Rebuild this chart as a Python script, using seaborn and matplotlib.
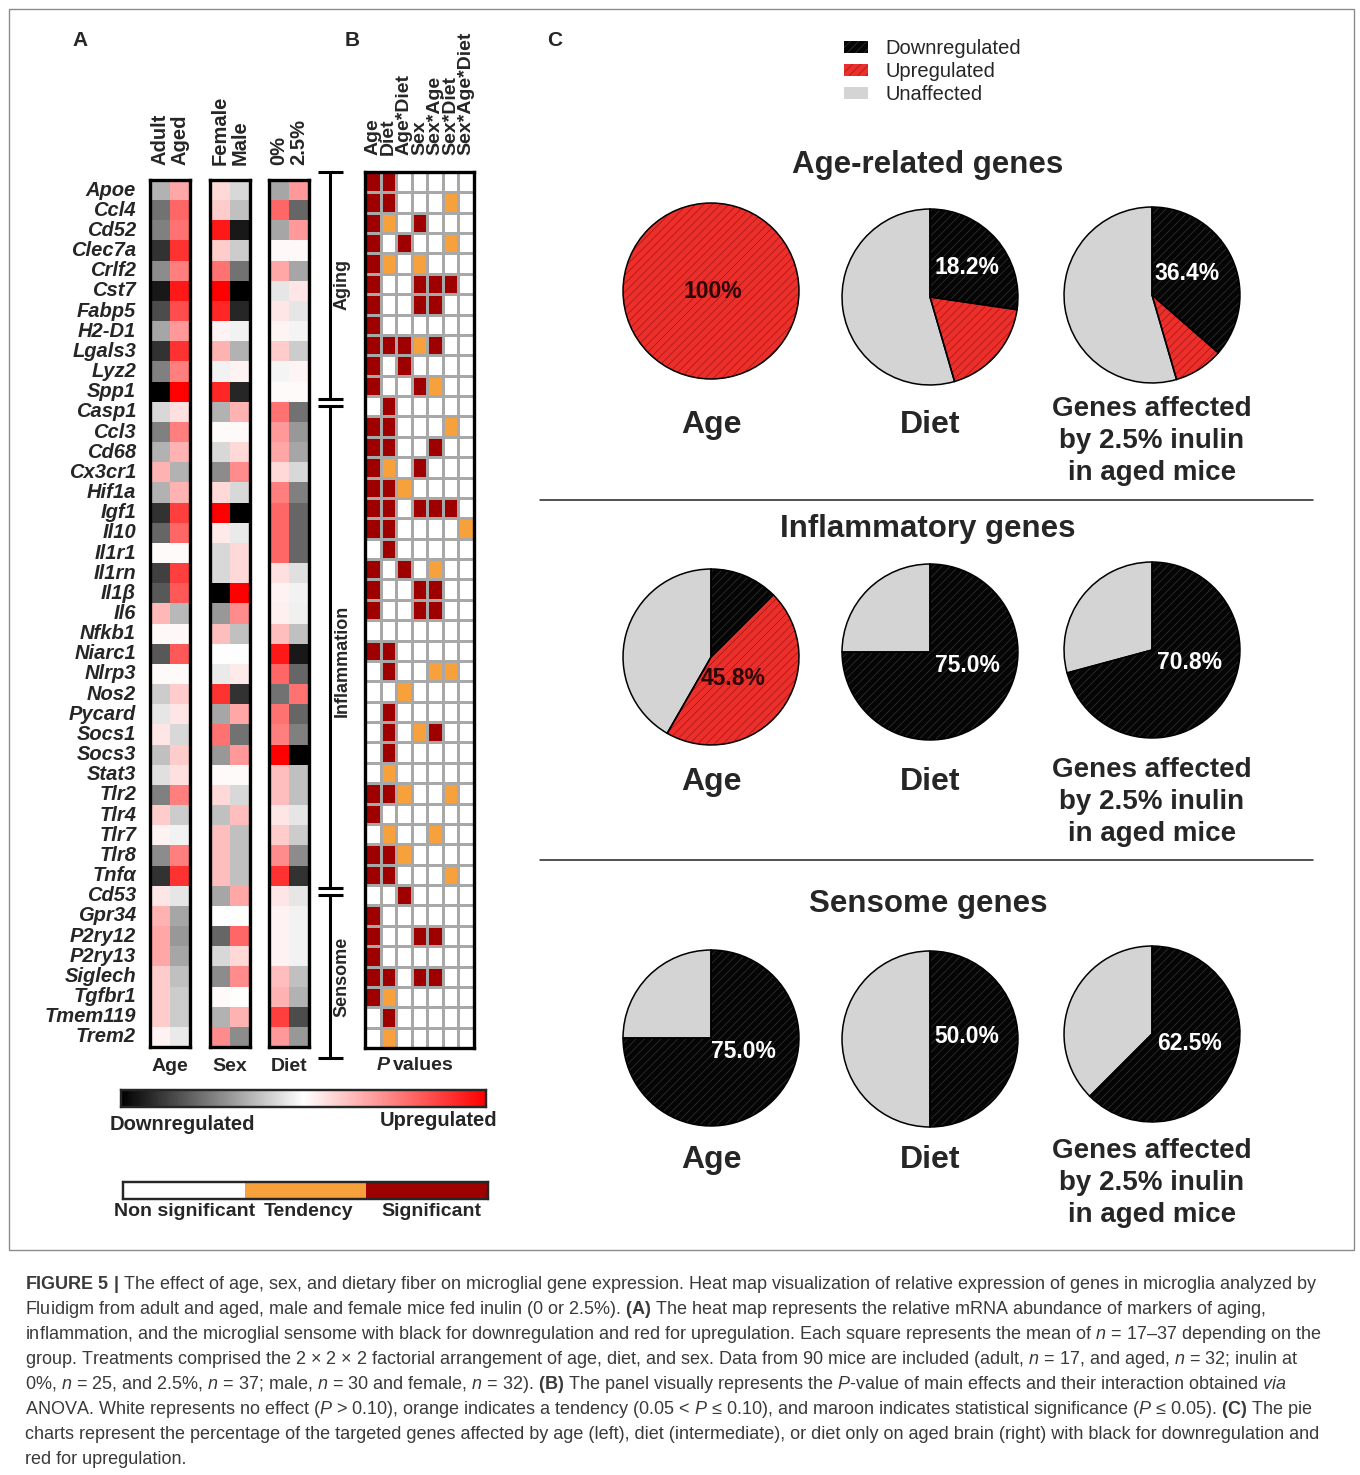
import numpy as np
import pandas as pd
import seaborn as sns
import matplotlib
matplotlib.use("Agg")
import matplotlib.pyplot as plt
from matplotlib.colors import LinearSegmentedColormap, ListedColormap
from matplotlib import font_manager
from matplotlib.patches import Rectangle, Patch, Circle
from matplotlib.lines import Line2D

# ---------------------------------------------------------------- data
genes = ["Apoe", "Ccl4", "Cd52", "Clec7a", "Crlf2", "Cst7", "Fabp5", "H2-D1", "Lgals3", "Lyz2", "Spp1",
         "Casp1", "Ccl3", "Cd68", "Cx3cr1", "Hif1a", "Igf1", "Il10", "Il1r1", "Il1rn", "Il1β", "Il6",
         "Nfkb1", "Niarc1", "Nlrp3", "Nos2", "Pycard", "Socs1", "Socs3", "Stat3", "Tlr2", "Tlr4", "Tlr7",
         "Tlr8", "Tnfα",
         "Cd53", "Gpr34", "P2ry12", "P2ry13", "Siglech", "Tgfbr1", "Tmem119", "Trem2"]
gene_groups = ["Aging", "Inflammation", "Sensome"]
group_sizes = [11, 24, 8]

# relative expression (-1 = downregulated, +1 = upregulated)
adult = [-0.3, -0.55, -0.5, -0.8, -0.45, -0.9, -0.7, -0.35, -0.8, -0.5, -1.0,
         -0.15, -0.5, -0.3, 0.3, -0.3, -0.8, -0.6, 0.02, -0.75, -0.65, 0.28, 0.03, -0.65, 0.02, -0.2,
         -0.1, 0.1, -0.25, -0.12, -0.5, 0.2, 0.05, -0.45, -0.8,
         0.1, 0.3, 0.35, 0.35, 0.2, 0.2, 0.2, 0.05]
aged = [0.35, 0.6, 0.55, 0.8, 0.5, 0.9, 0.7, 0.4, 0.8, 0.5, 1.0,
        0.12, 0.5, 0.3, -0.3, 0.3, 0.75, 0.6, 0.02, 0.75, 0.65, -0.28, 0.03, 0.65, 0.02, 0.2,
        0.1, -0.15, 0.2, 0.12, 0.5, -0.2, -0.05, 0.5, 0.8,
        -0.1, -0.35, -0.4, -0.35, -0.25, -0.2, -0.2, -0.08]
female = [0.15, 0.2, 0.9, 0.2, 0.55, 1.0, 0.85, 0.05, 0.3, -0.05, 0.85,
          -0.3, 0.02, -0.15, -0.45, 0.15, 1.0, 0.08, -0.15, -0.15, -1.0, -0.4, 0.25, 0.0, -0.08, 0.8,
          -0.35, 0.55, -0.4, 0.02, 0.15, -0.25, 0.25, 0.25, 0.25,
          -0.35, 0.0, -0.6, -0.15, -0.45, 0.02, -0.3, 0.45]
male = [-0.15, -0.25, -0.9, -0.2, -0.55, -1.0, -0.85, -0.05, -0.3, 0.05, -0.85,
        0.3, 0.02, 0.15, 0.45, -0.15, -1.0, -0.08, 0.15, 0.15, 1.0, 0.45, -0.25, 0.0, 0.08, -0.8,
        0.35, -0.55, 0.4, 0.02, -0.15, 0.25, -0.25, -0.25, -0.25,
        0.35, 0.0, 0.6, 0.15, 0.45, 0.0, 0.3, -0.45]
diet_0 = [-0.35, 0.6, -0.35, 0.03, 0.35, -0.1, 0.1, 0.04, 0.2, -0.04, 0.02,
          0.55, 0.4, 0.35, 0.15, 0.5, 0.6, 0.6, 0.6, 0.12, 0.05, 0.06, 0.25, 0.9, 0.6, -0.55,
          0.55, 0.5, 1.0, 0.25, 0.25, 0.1, 0.2, 0.45, 0.8,
          0.1, 0.05, 0.05, 0.05, 0.25, 0.3, 0.75, 0.4]
diet_25 = [0.4, -0.6, 0.4, 0.03, -0.35, 0.1, -0.1, -0.04, -0.2, 0.04, 0.02,
           -0.55, -0.4, -0.35, -0.15, -0.5, -0.6, -0.6, -0.6, -0.12, -0.05, -0.06, -0.25, -0.9, -0.6, 0.55,
           -0.6, -0.5, -1.0, -0.25, -0.25, -0.1, -0.2, -0.45, -0.8,
           -0.1, -0.05, -0.05, -0.05, -0.25, -0.3, -0.7, -0.4]

# ANOVA outcome per gene: 0 = not significant, 1 = tendency, 2 = significant
effects = ["Age", "Diet", "Age*Diet", "Sex", "Sex*Age", "Sex*Diet", "Sex*Age*Diet"]
pvals = [
    [2, 2, 0, 0, 0, 0, 0], [2, 2, 0, 0, 0, 1, 0], [2, 1, 0, 2, 0, 0, 0], [2, 0, 2, 0, 0, 1, 0],
    [2, 1, 0, 1, 0, 0, 0], [2, 0, 0, 2, 2, 2, 0], [2, 0, 0, 2, 2, 0, 0], [2, 0, 0, 0, 0, 0, 0],
    [2, 2, 2, 1, 2, 0, 0], [2, 0, 2, 0, 0, 0, 0], [2, 0, 0, 2, 1, 0, 0],
    [0, 2, 0, 0, 0, 0, 0], [2, 2, 0, 0, 0, 1, 0], [2, 2, 0, 0, 2, 0, 0], [2, 1, 0, 2, 0, 0, 0],
    [2, 2, 1, 0, 0, 0, 0], [2, 2, 0, 2, 2, 2, 0], [2, 2, 0, 0, 0, 0, 1], [0, 2, 0, 0, 0, 0, 0],
    [2, 0, 2, 0, 1, 0, 0], [2, 0, 0, 2, 2, 0, 0], [2, 0, 0, 2, 2, 0, 0], [0, 0, 0, 0, 0, 0, 0],
    [2, 2, 0, 0, 0, 0, 0], [0, 2, 0, 0, 1, 1, 0], [0, 0, 1, 0, 0, 0, 0], [0, 2, 0, 0, 0, 0, 0],
    [0, 2, 0, 1, 2, 0, 0], [0, 2, 0, 0, 0, 0, 0], [0, 1, 0, 0, 0, 0, 0], [2, 2, 1, 0, 0, 1, 0],
    [2, 0, 0, 0, 0, 0, 0], [0, 1, 0, 0, 1, 0, 0], [2, 2, 1, 0, 0, 0, 0], [2, 2, 0, 0, 0, 1, 0],
    [0, 0, 2, 0, 0, 0, 0], [2, 0, 0, 0, 0, 0, 0], [2, 0, 0, 2, 2, 0, 0], [2, 0, 0, 0, 0, 0, 0],
    [2, 2, 0, 2, 2, 0, 0], [2, 1, 0, 0, 0, 0, 0], [0, 2, 0, 0, 0, 0, 0], [0, 1, 0, 0, 0, 0, 0],
]
p_levels = ["Non significant", "Tendency", "Significant"]

# percentage of genes per gene set: downregulated / upregulated / unaffected
pie_sets = ["Age-related genes", "Inflammatory genes", "Sensome genes"]
pie_factors = ["Age", "Diet", "Genes affected\nby 2.5% inulin\nin aged mice"]
pct_down = [[0.0, 27.3, 36.4], [12.5, 75.0, 70.8], [75.0, 50.0, 62.5]]
pct_up = [[100.0, 18.2, 9.1], [45.8, 0.0, 0.0], [0.0, 0.0, 0.0]]
pct_unaffected = [[0.0, 54.5, 54.5], [41.7, 25.0, 29.2], [25.0, 50.0, 37.5]]
pct_labelled = [["up", "up", "down"], ["up", "down", "down"], ["down", "down", "down"]]
pie_legend = ["Downregulated", "Upregulated", "Unaffected"]

# ---------------------------------------------------------------- style
W, H = 1360, 1475
sns.set_theme(style="white")
installed = {f.name for f in font_manager.fontManager.ttflist}
SANS = "Liberation Sans"
NARROW = "Liberation Sans Narrow" if "Liberation Sans Narrow" in installed else SANS
plt.rcParams["font.family"] = [SANS, "DejaVu Sans"]
plt.rcParams["mathtext.fontset"] = "custom"
plt.rcParams["mathtext.rm"] = NARROW
plt.rcParams["mathtext.it"] = NARROW + ":italic"
plt.rcParams["mathtext.bf"] = NARROW + ":bold"
plt.rcParams["hatch.linewidth"] = 0.45

expr_cmap = LinearSegmentedColormap.from_list("down_up", ["#000000", "#ffffff", "#ff0000"])
p_cmap = ListedColormap(["#ffffff", "#f7a13c", "#9e0000"])
PIE_BLACK, PIE_RED, PIE_GREY = "#050505", "#ec2f2b", "#d4d4d4"
HATCH_BLACK, HATCH_RED = "#3a3a3a", "#9a1212"

fig = plt.figure(figsize=(W / 100, H / 100), dpi=100)
fig.patch.set_facecolor("white")


def px_axes(left, top, width, height):
    return fig.add_axes([left / W, 1 - (top + height) / H, width / W, height / H])


def ptext(x, y, s, **kw):
    return fig.text(x / W, 1 - y / H, s, **kw)


def frame(ax, lw=2.4):
    for sp in ax.spines.values():
        sp.set_visible(True)
        sp.set_color("black")
        sp.set_linewidth(lw)


# ---------------------------------------------------------------- panel A
cbar_ax = px_axes(121, 1090, 365, 17)
blocks = [("Age", ["Adult", "Aged"], adult, aged, 150),
          ("Sex", ["Female", "Male"], female, male, 210),
          ("Diet", ["0%", "2.5%"], diet_0, diet_25, 269)]
for i, (name, cols, a, b, x0) in enumerate(blocks):
    ax = px_axes(x0, 180, 40, 867)
    df = pd.DataFrame({cols[0]: a, cols[1]: b}, index=genes)
    sns.heatmap(df, ax=ax, cmap=expr_cmap, vmin=-1, vmax=1,
                cbar=(i == 0), cbar_ax=cbar_ax if i == 0 else None,
                cbar_kws=dict(orientation="horizontal", ticks=[-0.6, -0.2, 0.2, 0.6]) if i == 0 else {},
                xticklabels=True, yticklabels=(i == 0))
    ax.xaxis.tick_top()
    ax.set_xticklabels(cols, rotation=90, fontsize=14.5, fontweight="bold", va="bottom")
    ax.tick_params(axis="x", length=0, pad=11)
    ax.tick_params(axis="y", length=0, pad=10)
    if i == 0:
        ax.set_yticklabels(genes, rotation=0, fontsize=14.5, fontweight="bold", fontstyle="italic")
    ax.set_ylabel("")
    ax.set_xlabel(name, fontsize=14, fontweight="bold", labelpad=8)
    frame(ax)

cbar_ax.tick_params(axis="x", which="both", direction="in", length=3, width=1.2,
                    top=True, bottom=True, labelbottom=False, labeltop=False, colors="black")
for sp in cbar_ax.spines.values():
    sp.set_visible(True)
    sp.set_linewidth(1.6)
ptext(110, 1124, "Downregulated", fontsize=14.5, fontweight="bold", ha="left", va="center")
ptext(497, 1121, "Upregulated", fontsize=14.5, fontweight="bold", ha="right", va="center")

# group brackets
brk = px_axes(310, 150, 45, 930)
brk.set_xlim(310, 355)
brk.set_ylim(1080, 150)
brk.axis("off")
row_px = 876 / len(genes)
bounds = np.concatenate([[0], np.cumsum(group_sizes)])
line_kw = dict(color="black", lw=2.2, solid_capstyle="butt")
top_y, bot_y = 172, 172 + bounds[-1] * row_px + 10
breaks = [172 + b * row_px + 6 for b in bounds[1:-1]]
seg_ends = [top_y] + [v for b in breaks for v in (b - 3.5, b + 3.5)] + [bot_y]
for k in range(0, len(seg_ends), 2):
    brk.plot([330, 330], [seg_ends[k], seg_ends[k + 1]], **line_kw)
for y in [top_y, bot_y] + [b - 3.5 for b in breaks] + [b + 3.5 for b in breaks]:
    brk.plot([318, 343], [y, y], **line_kw)
label_rows = [5.5, 24.0, 39.5]
for g, r in zip(gene_groups, label_rows):
    brk.text(342, 172 + r * row_px, g, rotation=90, ha="center", va="center",
             fontsize=13, fontweight="bold")

# ---------------------------------------------------------------- panel B
pcax = px_axes(123, 1182, 365, 17)
pax = px_axes(365, 172, 109, 876)
pdf = pd.DataFrame(np.array(pvals), index=genes, columns=effects)
sns.heatmap(pdf, ax=pax, cmap=p_cmap, vmin=-0.5, vmax=2.5, linewidths=0.8, linecolor="#a8a8a8",
            cbar=True, cbar_ax=pcax, cbar_kws=dict(orientation="horizontal", ticks=[]),
            xticklabels=True, yticklabels=False)
pax.xaxis.tick_top()
pax.set_xticklabels(effects, rotation=90, fontsize=14, fontweight="bold", va="bottom")
pax.tick_params(axis="x", length=0, pad=12)
pax.set_ylabel("")
pax.set_xlabel("")
frame(pax)
ptext(390, 1066, "P", fontsize=14, fontweight="bold", fontstyle="italic", ha="right", va="center")
ptext(393, 1066, "values", fontsize=14, fontweight="bold", ha="left", va="center")
for sp in pcax.spines.values():
    sp.set_visible(True)
    sp.set_linewidth(1.6)
for lab, x in zip(p_levels, [185, 309, 431]):
    ptext(x, 1212, lab, fontsize=14, fontweight="bold", ha="center", va="center")

# panel letters
for letter, x in zip("ABC", [80, 352, 555]):
    ptext(x, 40, letter, fontsize=15, fontweight="bold", ha="center", va="center")

# ---------------------------------------------------------------- panel C
HATCH = "////"
pie_cx = [711, 930, 1152]
pie_cy = [[291, 297, 295], [657, 652, 650], [1038, 1039, 1034]]
label_xy = [[(0.02, 0.0), (0.42, 0.33), (0.40, 0.25)],
            [(0.25, -0.24), (0.43, -0.15), (0.43, -0.14)],
            [(0.37, -0.15), (0.42, 0.03), (0.43, -0.11)]]
label_col = [["#2a0606", "white", "white"], ["#2a0606", "white", "white"], ["white", "white", "white"]]
title_y = [165, 529, 904]
factor_y = [(425, 441), (782, 802), (1160, 1183)]

for gi, gset in enumerate(pie_sets):
    ptext(928, title_y[gi], gset, fontsize=22.5, fontweight="bold", family=NARROW,
          ha="center", va="center")
    for ci in range(3):
        vals = [pct_down[gi][ci], pct_up[gi][ci], pct_unaffected[gi][ci]]
        cx, cy = pie_cx[ci], pie_cy[gi][ci]
        ax = px_axes(cx - 90, cy - 90, 180, 180)
        wedges, _ = ax.pie(vals, colors=[PIE_BLACK, PIE_RED, PIE_GREY], startangle=90,
                           counterclock=False, wedgeprops=dict(linewidth=0))
        wedges[0].set_hatch(HATCH)
        wedges[0].set_edgecolor(HATCH_BLACK)
        wedges[1].set_hatch(HATCH)
        wedges[1].set_edgecolor(HATCH_RED)
        nonzero = [v for v in vals if v > 0]
        if len(nonzero) > 1:
            ax.pie(nonzero, startangle=90, counterclock=False,
                   wedgeprops=dict(fill=False, edgecolor="black", linewidth=1.1))
        else:
            ax.add_patch(Circle((0, 0), 1, fill=False, edgecolor="black", lw=1.1))
        ax.set_xlim(-1.023, 1.023)
        ax.set_ylim(-1.023, 1.023)
        ax.set_aspect("equal")
        ax.axis("off")
        which = pct_labelled[gi][ci]
        v = pct_down[gi][ci] if which == "down" else pct_up[gi][ci]
        txt = f"{v:.0f}%" if v == 100 else f"{v:.1f}%"
        lx, ly = label_xy[gi][ci]
        ax.text(lx, ly, txt, ha="center", va="center", color=label_col[gi][ci],
                fontsize=16.5, fontweight="bold", family=NARROW)
        if ci == 2:
            ptext(cx, factor_y[gi][1], pie_factors[ci], fontsize=20, fontweight="bold",
                  family=NARROW, ha="center", va="center", linespacing=1.32)
        else:
            ptext(cx, factor_y[gi][0], pie_factors[ci], fontsize=23, fontweight="bold",
                  family=NARROW, ha="center", va="center")

handles = [Patch(facecolor=PIE_BLACK, edgecolor=HATCH_BLACK, hatch=HATCH, linewidth=0),
           Patch(facecolor=PIE_RED, edgecolor=HATCH_RED, hatch=HATCH, linewidth=0),
           Patch(facecolor=PIE_GREY, edgecolor=PIE_GREY, linewidth=0)]
fig.legend(handles, pie_legend, loc="upper left", bbox_to_anchor=(844 / W, 1 - 39 / H),
           frameon=False, prop=dict(family=NARROW, size=14.5), handlelength=1.2, handleheight=0.55,
           handletextpad=0.85, labelspacing=0.2, borderpad=0, borderaxespad=0)

# separators and outer frame
for y in (500, 860):
    fig.add_artist(Line2D([540 / W, 1313 / W], [1 - y / H, 1 - y / H], color="#222222", lw=1.1))
fig.add_artist(Rectangle((9 / W, 1 - 1250 / H), 1345 / W, 1241 / H, transform=fig.transFigure,
                         fill=False, edgecolor="#8c8c8c", lw=1))

# ---------------------------------------------------------------- caption
caption = [
    r"$\mathbf{FIGURE\ 5\ |}$ The effect of age, sex, and dietary fiber on microglial gene expression. Heat map visualization of relative expression of genes in microglia analyzed by",
    r"Fluidigm from adult and aged, male and female mice fed inulin (0 or 2.5%). $\mathbf{(A)}$ The heat map represents the relative mRNA abundance of markers of aging,",
    r"inflammation, and the microglial sensome with black for downregulation and red for upregulation. Each square represents the mean of $n$ = 17–37 depending on the",
    r"group. Treatments comprised the 2 × 2 × 2 factorial arrangement of age, diet, and sex. Data from 90 mice are included (adult, $n$ = 17, and aged, $n$ = 32; inulin at",
    r"0%, $n$ = 25, and 2.5%, $n$ = 37; male, $n$ = 30 and female, $n$ = 32). $\mathbf{(B)}$ The panel visually represents the $P$-value of main effects and their interaction obtained $via$",
    r"ANOVA. White represents no effect ($P$ > 0.10), orange indicates a tendency (0.05 < $P$ ≤ 0.10), and maroon indicates statistical significance ($P$ ≤ 0.05). $\mathbf{(C)}$ The pie",
    r"charts represent the percentage of the targeted genes affected by age (left), diet (intermediate), or diet only on aged brain (right) with black for downregulation and",
    r"red for upregulation.",
]
for k, line in enumerate(caption):
    ptext(25, 1289 + 25 * k, line, fontsize=13, family=[NARROW, "DejaVu Sans"], color="#3a3a3a",
          ha="left", va="baseline")

fig.savefig("out.png", dpi=100)
